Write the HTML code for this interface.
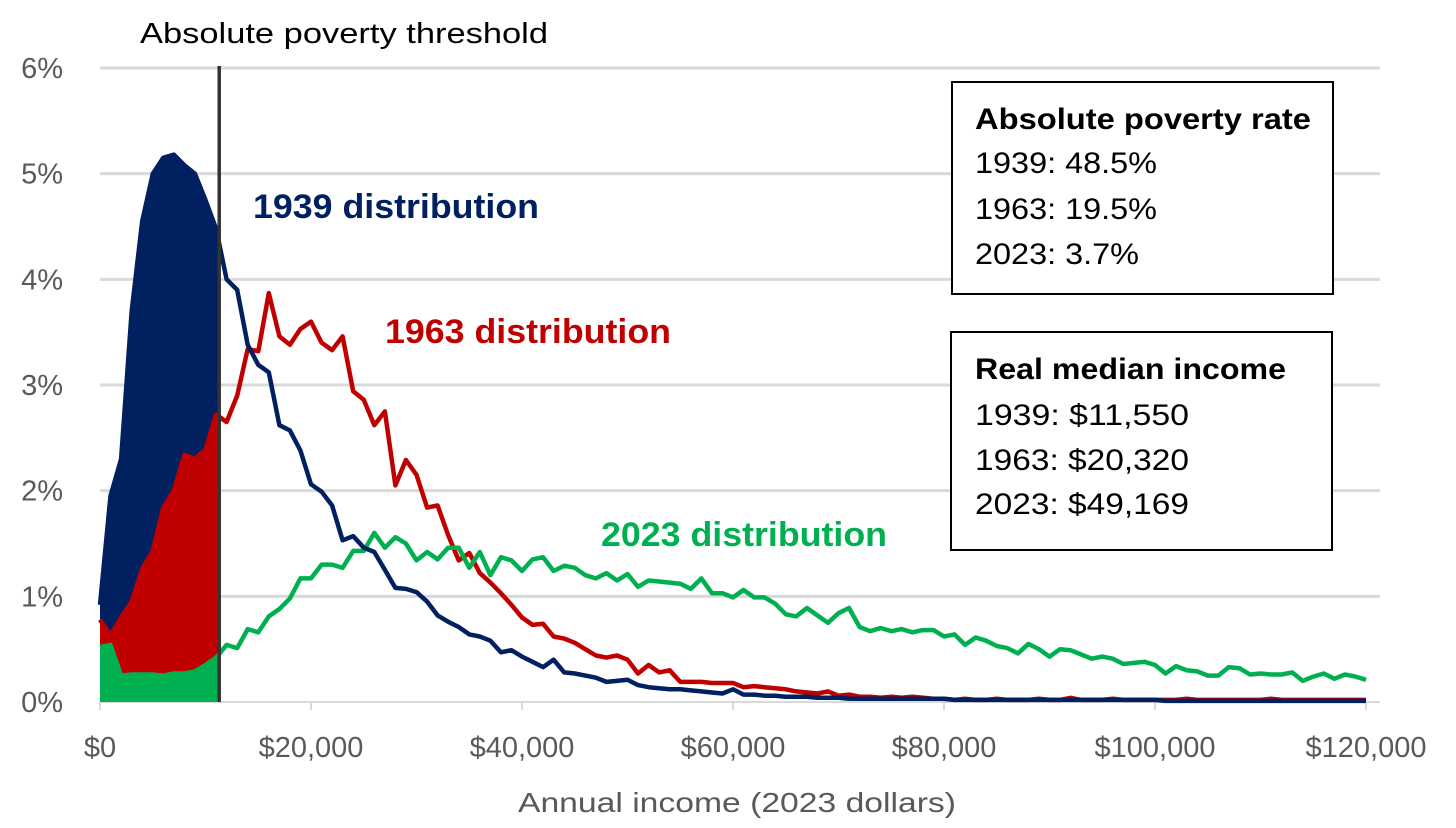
<!DOCTYPE html>
<html><head><meta charset="utf-8"><style>
html,body{margin:0;padding:0;background:#fff;}
svg{display:block;font-family:"Liberation Sans",sans-serif;}
</style></head><body>
<svg id="chart" width="1456" height="828" viewBox="0 0 1456 828">
<g id="grid"></g>
<g id="yaxis"></g>
<g id="xaxis"></g>
<g id="marks"></g>
<text x="518" y="812" font-size="28" fill="#595959" textLength="438" lengthAdjust="spacingAndGlyphs">Annual income (2023 dollars)</text>
<text x="140" y="43" font-size="29" fill="#000" textLength="408" lengthAdjust="spacingAndGlyphs">Absolute poverty threshold</text>
<text x="253" y="218" font-size="34" font-weight="bold" fill="#002060" textLength="286" lengthAdjust="spacingAndGlyphs">1939 distribution</text>
<text x="385" y="343" font-size="34" font-weight="bold" fill="#c00000" textLength="286" lengthAdjust="spacingAndGlyphs">1963 distribution</text>
<text x="601" y="546" font-size="34" font-weight="bold" fill="#00b050" textLength="286" lengthAdjust="spacingAndGlyphs">2023 distribution</text>
<g>
<rect x="952" y="82" width="381" height="212" fill="#fff" stroke="#000" stroke-width="2"/>
<text x="975" y="129" font-size="30" font-weight="bold" textLength="336" lengthAdjust="spacingAndGlyphs">Absolute poverty rate</text>
<text x="975" y="173" font-size="30" textLength="182" lengthAdjust="spacingAndGlyphs">1939: 48.5%</text>
<text x="975" y="219" font-size="30" textLength="182" lengthAdjust="spacingAndGlyphs">1963: 19.5%</text>
<text x="975" y="264" font-size="30" textLength="164" lengthAdjust="spacingAndGlyphs">2023: 3.7%</text>
</g>
<g>
<rect x="951" y="332" width="381" height="218" fill="#fff" stroke="#000" stroke-width="2"/>
<text x="975" y="379" font-size="30" font-weight="bold" textLength="311" lengthAdjust="spacingAndGlyphs">Real median income</text>
<text x="975" y="425" font-size="30" textLength="214" lengthAdjust="spacingAndGlyphs">1939: $11,550</text>
<text x="975" y="470" font-size="30" textLength="214" lengthAdjust="spacingAndGlyphs">1963: $20,320</text>
<text x="975" y="514" font-size="30" textLength="214" lengthAdjust="spacingAndGlyphs">2023: $49,169</text>
</g>
</svg>
<script>
const incomeK = Array.from({length:121},(_, i)=>i); // income bins in $1000s
const series1939 = [0.92,1.95,2.3,3.7,4.55,5.0,5.15,5.18,5.08,5.0,4.75,4.48,4.0,3.9,3.38,3.19,3.12,2.62,2.57,2.38,2.06,1.99,1.86,1.53,1.57,1.46,1.42,1.25,1.08,1.07,1.04,0.95,0.82,0.76,0.71,0.64,0.62,0.58,0.47,0.49,0.43,0.38,0.33,0.40,0.28,0.27,0.25,0.23,0.19,0.20,0.21,0.16,0.14,0.13,0.12,0.12,0.11,0.10,0.09,0.08,0.12,0.07,0.07,0.06,0.06,0.05,0.05,0.05,0.04,0.04,0.04,0.03,0.03,0.03,0.03,0.03,0.03,0.03,0.03,0.03,0.03,0.02,0.02,0.02,0.02,0.02,0.02,0.02,0.02,0.02,0.02,0.02,0.02,0.02,0.02,0.02,0.02,0.02,0.02,0.02,0.02,0.01,0.01,0.01,0.01,0.01,0.01,0.01,0.01,0.01,0.01,0.01,0.01,0.01,0.01,0.01,0.01,0.01,0.01,0.01,0.01];
const series1963 = [0.78,0.63,0.8,0.95,1.26,1.43,1.84,2.0,2.34,2.3,2.39,2.72,2.65,2.9,3.34,3.32,3.87,3.46,3.38,3.53,3.6,3.4,3.33,3.46,2.94,2.86,2.62,2.75,2.05,2.29,2.15,1.84,1.86,1.58,1.34,1.41,1.22,1.13,1.03,0.92,0.8,0.73,0.74,0.62,0.6,0.56,0.5,0.44,0.42,0.44,0.40,0.27,0.35,0.28,0.30,0.19,0.19,0.19,0.18,0.18,0.18,0.14,0.15,0.14,0.13,0.12,0.10,0.09,0.08,0.10,0.06,0.07,0.05,0.05,0.04,0.05,0.04,0.05,0.04,0.03,0.03,0.02,0.03,0.02,0.02,0.03,0.02,0.02,0.02,0.03,0.02,0.02,0.04,0.02,0.02,0.02,0.03,0.02,0.02,0.02,0.02,0.02,0.02,0.03,0.02,0.02,0.02,0.02,0.02,0.02,0.02,0.03,0.02,0.02,0.02,0.02,0.02,0.02,0.02,0.02,0.02];
const series2023 = [0.52,0.54,0.25,0.26,0.26,0.26,0.25,0.27,0.27,0.29,0.35,0.42,0.54,0.51,0.69,0.66,0.81,0.88,0.98,1.17,1.17,1.3,1.3,1.27,1.43,1.43,1.6,1.46,1.56,1.5,1.34,1.42,1.35,1.46,1.46,1.27,1.42,1.2,1.37,1.34,1.24,1.35,1.37,1.24,1.29,1.27,1.2,1.17,1.22,1.15,1.21,1.09,1.15,1.14,1.13,1.12,1.07,1.17,1.03,1.03,0.99,1.06,0.99,0.99,0.93,0.83,0.81,0.89,0.82,0.75,0.84,0.89,0.71,0.67,0.7,0.67,0.69,0.66,0.68,0.68,0.62,0.64,0.54,0.61,0.58,0.53,0.51,0.46,0.55,0.50,0.43,0.50,0.49,0.45,0.41,0.43,0.41,0.36,0.37,0.38,0.35,0.27,0.34,0.30,0.29,0.25,0.25,0.33,0.32,0.26,0.27,0.26,0.26,0.28,0.20,0.24,0.27,0.22,0.26,0.24,0.21];
const thresholdK = 11.3;
const yTicks = [0,1,2,3,4,5,6];
const yTickLabels = ["0%","1%","2%","3%","4%","5%","6%"];
const xTicks = [0,20,40,60,80,100,120];
const xTickLabels = ["$0","$20,000","$40,000","$60,000","$80,000","$100,000","$120,000"];

const NS="http://www.w3.org/2000/svg";
const X0=100, X1=1366, Y0=702, Y1=68;
function xs(k){return X0+(X1-X0)*k/120;}
function ys(v){return Y0-(Y0-Y1)*v/6;}
function mk(tag,attrs,parent){const e=document.createElementNS(NS,tag);for(const k in attrs)e.setAttribute(k,attrs[k]);parent.appendChild(e);return e;}

const grid=document.getElementById('grid'), ya=document.getElementById('yaxis'), xa=document.getElementById('xaxis'), marks=document.getElementById('marks');
yTicks.forEach((t,i)=>{
  if(t>0){const g=mk('line',{x1:X0,x2:1380,y1:ys(t),y2:ys(t),stroke:'#d9d9d9','stroke-width':3},grid);
  
  }
  const l=mk('text',{x:63,y:ys(t)+10,'text-anchor':'end','font-size':29,fill:'#595959'},ya);
  l.textContent=yTickLabels[i];
  
  
});
const ax=mk('line',{x1:X0,x2:1380,y1:Y0,y2:Y0,stroke:'#d9d9d9','stroke-width':2},xa);


xTicks.forEach((t,i)=>{
  const tk=mk('line',{x1:xs(t),x2:xs(t),y1:Y0,y2:Y0+8,stroke:'#d9d9d9','stroke-width':2},xa);
  
  
  const l=mk('text',{x:xs(t),y:757,'text-anchor':'middle','font-size':29,fill:'#595959'},xa);
  l.textContent=xTickLabels[i];
  
  
});

const clip=mk('clipPath',{id:'below'},mk('defs',{},marks));
mk('rect',{x:X0-5,y:0,width:xs(thresholdK)-X0+5,height:Y0},clip);
const series=[[series1939,'#002060','1939'],[series1963,'#c00000','1963'],[series2023,'#00b050','2023']];
series.forEach(([d,c,n])=>{
  let p='M'+xs(incomeK[0])+','+Y0;
  d.forEach((v,i)=>{p+=' L'+xs(incomeK[i]).toFixed(1)+','+ys(v).toFixed(1);});
  p+=' L'+xs(incomeK[d.length-1])+','+Y0+' Z';
  const a=mk('path',{d:p,fill:c,'clip-path':'url(#below)'},marks);
  
  
});
[[series1963,'#c00000','1963'],[series2023,'#00b050','2023'],[series1939,'#002060','1939']].forEach(([d,c,n])=>{
  const pts=d.map((v,i)=>xs(incomeK[i]).toFixed(1)+','+ys(v).toFixed(1)).join(' ');
  const l=mk('polyline',{points:pts,fill:'none',stroke:c,'stroke-width':4.5,'stroke-linejoin':'round'},marks);
  
  
});
const th=mk('line',{x1:xs(thresholdK),x2:xs(thresholdK),y1:66,y2:Y0,stroke:'#333','stroke-width':3.5},marks);


</script>
</body></html>
